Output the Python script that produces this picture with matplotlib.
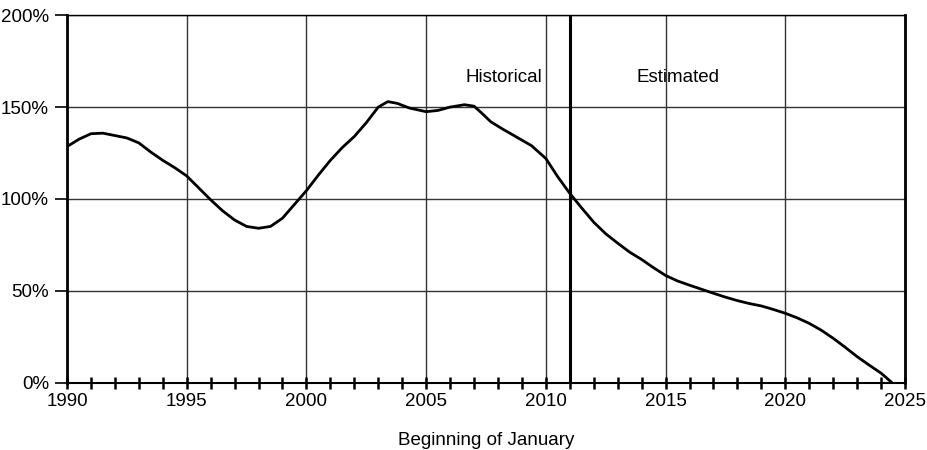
import numpy as np
import matplotlib
matplotlib.use("Agg")
import matplotlib.pyplot as plt
from matplotlib.ticker import MultipleLocator, FuncFormatter

plt.rcParams['font.family'] = ['Liberation Sans', 'DejaVu Sans']

# values
years = [1990.0, 1990.5, 1991.0, 1991.5, 1992.0, 1992.5, 1993.0, 1993.5, 1994.0, 1994.5,
         1995.0, 1995.5, 1996.0, 1996.5, 1997.0, 1997.5, 1998.0, 1998.5, 1999.0, 1999.5,
         2000.0, 2000.5, 2001.0, 2001.5, 2002.0, 2002.5, 2003.0, 2003.4, 2003.8, 2004.3,
         2005.0, 2005.5, 2006.0, 2006.6, 2007.0, 2007.3, 2007.7, 2008.2, 2008.8, 2009.4,
         2010.0, 2010.5, 2011.0, 2011.5, 2012.0, 2012.5, 2013.0, 2013.5, 2014.0, 2014.5,
         2015.0, 2015.5, 2016.0, 2016.5, 2017.0, 2017.5, 2018.0, 2018.5, 2019.0, 2019.5,
         2020.0, 2020.5, 2021.0, 2021.5, 2022.0, 2022.5, 2023.0, 2023.5, 2024.0, 2024.45]
percent = [128.5, 132.5, 135.5, 135.8, 134.5, 133.2, 130.5, 125.5, 121.0, 117.0,
           112.5, 106.0, 99.5, 93.5, 88.5, 85.0, 84.0, 85.0, 89.5, 97.0,
           104.5, 113.0, 121.0, 128.0, 134.0, 141.5, 150.0, 153.0, 152.0, 149.5,
           147.5, 148.2, 150.0, 151.3, 150.5, 147.0, 142.0, 138.0, 133.5, 129.0,
           122.0, 112.0, 103.0, 95.0, 87.3, 81.0, 75.9, 71.0, 67.0, 62.5,
           58.3, 55.3, 53.0, 50.8, 48.6, 46.5, 44.6, 43.0, 41.7, 39.8,
           37.7, 35.2, 32.2, 28.5, 24.1, 19.2, 14.1, 9.5, 5.1, 0.0]
split_year = 2011
labels = ["Historical", "Estimated"]
xlabel = "Beginning of January"

fig = plt.figure(figsize=(9.27, 4.5), dpi=100)
ax = fig.add_axes([67/927, 1 - 382.5/450, (905 - 67)/927, (382.5 - 15.3)/450])

ax.set_xlim(1990, 2025)
ax.set_ylim(0, 200)

ax.xaxis.set_major_locator(MultipleLocator(5))
ax.xaxis.set_minor_locator(MultipleLocator(1))
ax.yaxis.set_major_locator(MultipleLocator(50))
ax.yaxis.set_major_formatter(FuncFormatter(lambda v, p: f"{int(v)}%"))

ax.grid(True, which='major', color='#333333', linewidth=1.0)
ax.set_axisbelow(True)

ax.plot(years, percent, color='black', linewidth=2.0, solid_capstyle='round',
        solid_joinstyle='round', zorder=3)
ax.axvline(split_year, color='black', linewidth=2.2, zorder=4)

ax.spines['left'].set_linewidth(2.0)
ax.spines['right'].set_linewidth(2.0)
ax.spines['top'].set_linewidth(1.0)
ax.spines['bottom'].set_linewidth(1.5)

ax.tick_params(axis='x', which='both', direction='inout', length=9, width=1.8,
               labelsize=13.5, pad=3)
ax.tick_params(axis='y', direction='out', length=9, width=1.2, labelsize=13.5, pad=4)
ax.tick_params(axis='y', which='minor', left=False)

ax.text(2009.85, 166, labels[0], ha='right', va='center', fontsize=13.5)
ax.text(2013.8, 166, labels[1], ha='left', va='center', fontsize=13.5)

ax.set_xlabel(xlabel, fontsize=13.5, labelpad=16)

fig.savefig("out.png", dpi=100)
